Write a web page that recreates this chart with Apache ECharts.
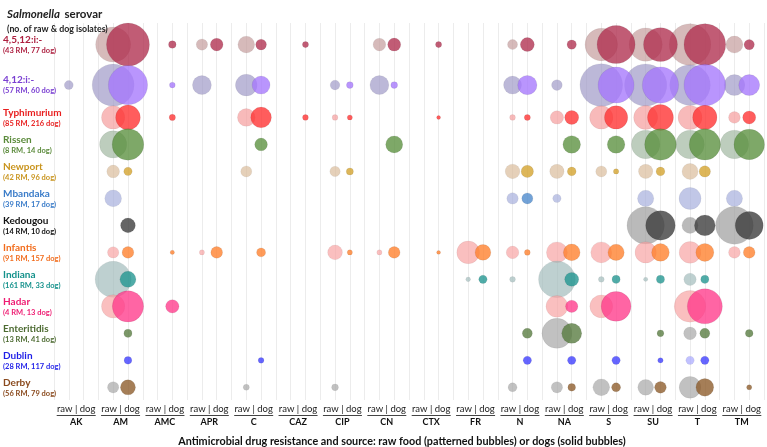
<!DOCTYPE html>
<html>
<head>
<meta charset="utf-8">
<script src="https://cdn.jsdelivr.net/npm/echarts@6.0.0/dist/echarts.min.js"></script>
<style>
  html, body { margin: 0; padding: 0; background: #fff; }
  #main { width: 767px; height: 447px; }
</style>
</head>
<body>
<div id="main"></div>
<script>
// drugs along the x axis, each one has a raw and a dog column
var drugs = ['AK', 'AM', 'AMC', 'APR', 'C', 'CAZ', 'CIP', 'CN', 'CTX', 'FR', 'N', 'NA', 'S', 'SU', 'T', 'TM'];

var serovars = ['4,5,12:i:-', '4,12:i:-', 'Typhimurium', 'Rissen', 'Newport', 'Mbandaka', 'Kedougou',
                'Infantis', 'Indiana', 'Hadar', 'Enteritidis', 'Dublin', 'Derby'];
var rmCounts = [43, 57, 85, 8, 42, 39, 14, 91, 161, 4, 13, 28, 56];
var dogCounts = [77, 60, 216, 14, 96, 17, 10, 157, 33, 13, 41, 117, 79];

// % resistant isolates, order of drugs above (null = none)
var raw_4512 = [null, 56.5, null, 5.9, 12.9, null, null, 7.4, null, null, 4.6, null, 49, 51, 80, 13.3];
var dog_4512 = [null, 85, 2.6, 7.4, 5.3, 1.7, null, 7.8, 1.7, null, 9, 4, 66.5, 53, 80, 4.9];
var raw_412 = [3.7, 81, null, 16.6, 21.7, null, 4.3, 16.6, null, null, 14.9, 5.3, 84, 82.5, 76, 20.3];
var dog_412 = [null, 71, 1.5, null, 14.9, null, 2.1, 2.1, null, null, 17.2, null, 59.7, 60.7, 80, 20.3];
var raw_typh = [null, 25, null, null, 14.4, null, 1.5, null, null, null, 1.5, 8.2, 25, 26.5, 26.5, 6.3];
var dog_typh = [null, 28, 1.8, null, 19.7, 1.5, 1.2, null, 0.7, null, 1.7, 9, 25, 31, 27.2, 7.8];
var raw_rissen = [null, 34, null, null, null, null, null, null, null, null, null, null, null, 37.5, 37.5, 37.5];
var dog_rissen = [null, 46, null, null, 7.4, null, null, 13.3, null, null, null, 14.3, 14.3, 46, 45, 42.9];
var raw_newport = [null, 7.4, null, null, 5.6, null, 4.9, null, null, null, 9.8, 9.4, 5.6, 9.4, 11.8, null];
var dog_newport = [null, 3.2, null, null, null, null, 2.3, null, null, null, 7, 3.5, 1.3, 3.5, 5.9, null];
var raw_mbandaka = [null, 12.9, null, null, null, null, null, null, null, null, 6, 3.2, null, 12.2, 22.3, 12.2];
var dog_mbandaka = [null, null, null, null, null, null, null, null, null, null, 5.6, null, null, null, null, null];
var raw_kedougou = [null, null, null, null, null, null, null, null, null, null, null, null, null, 64.3, 12, 65.5];
var dog_kedougou = [null, 10, null, null, null, null, null, null, null, null, null, null, null, 40, 20, 36];
var raw_infantis = [null, 5.9, null, 1.2, null, null, 10, 1.2, null, 23.7, 7.3, 20.3, 20.3, 20.9, 21.7, 6.3];
var dog_infantis = [null, 6.3, 0.85, 6.3, 3.7, null, 1.2, 6.3, 0.7, 11.4, 1.5, 12.9, 12.2, 14.4, 14.9, 6.3];
var raw_indiana = [null, 59.7, null, null, null, null, null, null, null, 1, 1.5, 62, 1.5, 0.85, 7, null];
var dog_indiana = [null, 11.8, null, null, null, null, null, null, null, 3.2, null, 9, 3, 3, 3, null];
var raw_hadar = [null, 25, null, null, null, null, null, null, null, null, null, 22, 24, null, 46, null];
var dog_hadar = [null, 45, 8.2, null, null, null, null, null, null, null, null, 7, 41, null, 56.5, null];
var raw_enteritidis = [null, null, null, null, null, null, null, null, null, null, null, 41.5, null, null, 7.4, null];
var dog_enteritidis = [null, 3, null, null, null, null, null, null, null, null, 4.6, 18.4, null, 2.1, 4.6, 2.7];
var raw_dublin = [null, null, null, null, null, null, null, null, null, null, null, null, null, null, 3.2, null];
var dog_dublin = [null, 2.7, null, null, 1.5, null, null, null, null, null, 3.2, 3.2, 3.2, 1.3, 3.2, null];
var raw_derby = [null, 5.9, null, null, 1.7, null, 2.1, null, null, null, 3.7, 5.9, 12.9, 11.4, 21.7, null];
var dog_derby = [null, 10.4, null, null, null, null, null, null, null, null, null, 2.7, 3.7, 6.3, 14.4, 1.2];

var rawRows = [raw_4512, raw_412, raw_typh, raw_rissen, raw_newport, raw_mbandaka, raw_kedougou,
               raw_infantis, raw_indiana, raw_hadar, raw_enteritidis, raw_dublin, raw_derby];
var dogRows = [dog_4512, dog_412, dog_typh, dog_rissen, dog_newport, dog_mbandaka, dog_kedougou,
               dog_infantis, dog_indiana, dog_hadar, dog_enteritidis, dog_dublin, dog_derby];

// colours: label, raw bubble, dog bubble
var textColors = ['#ad1f3f', '#7a3fd2', '#e81f1f', '#5a8a3a', '#c9941d', '#3a7cc9', '#111111',
                  '#f26c1c', '#13918b', '#ee1c72', '#4d6b32', '#1f1fe8', '#8a4a1e'];
var rawColors = ['#c39a9a', '#9c97c6', '#f59a9a', '#9db69d', '#d8ba98', '#a3acdc', '#9a9a9a',
                 '#f7a0a0', '#9fbab9', '#f7a0a0', '#a3a3a3', '#a3a3ff', '#a3a3a3'];
var dogColors = ['#b02e4e', '#a577fc', '#ff3030', '#5a8f3e', '#d4a22a', '#4a88cc', '#3a3a3a',
                 '#ff7f2a', '#1f9590', '#ff3a8a', '#567a3e', '#3b3bff', '#8c5a28'];

// vertical layout: top rows have extra room for the big bubbles
var rowPos = [];
for (var i = 0; i < serovars.length; i++) {
  if (i === 0) rowPos.push(0);
  else if (i === 1) rowPos.push(1.5);
  else rowPos.push(2.7 + (i - 2));
}

function bubbleSize(v) {
  return 4.66 * Math.sqrt(v[2]);
}

var series = [];
var richY = {};
for (var r = 0; r < serovars.length; r++) {
  var rawData = [], dogData = [];
  for (var d = 0; d < drugs.length; d++) {
    if (rawRows[r][d] != null) rawData.push([d * 3, rowPos[r], rawRows[r][d]]);
    if (dogRows[r][d] != null) dogData.push([d * 3 + 1, rowPos[r], dogRows[r][d]]);
  }
  series.push({
    name: serovars[r] + ' raw', type: 'scatter', data: rawData, symbolSize: bubbleSize,
    itemStyle: { color: rawColors[r], opacity: 0.68, borderColor: 'rgba(0,0,0,0.12)', borderWidth: 0.6 },
    z: 2
  });
  series.push({
    name: serovars[r] + ' dog', type: 'scatter', data: dogData, symbolSize: bubbleSize,
    itemStyle: { color: dogColors[r], opacity: 0.78, borderColor: 'rgba(0,0,0,0.15)', borderWidth: 0.6 },
    z: 3
  });
  richY['n' + r] = { fontSize: 10, fontWeight: 'bold', color: textColors[r], lineHeight: 12, fontFamily: 'Lato' };
  richY['c' + r] = { fontSize: 7.5, fontWeight: 'bold', color: textColors[r], lineHeight: 10, fontFamily: 'Lato' };
}

var chart = echarts.init(document.getElementById('main'));
chart.setOption({
  animation: false,
  textStyle: { fontFamily: 'Lato' },
  title: [{
    left: 2, top: 0,
    text: '{i|Salmonella} {r|serovar}\n{s|(no. of raw & dog isolates)}',
    textStyle: {
      rich: {
        i: { fontSize: 11.5, fontStyle: 'italic', fontWeight: 'bold', color: '#222', fontFamily: 'Lato', lineHeight: 14 },
        r: { fontSize: 11.5, fontWeight: 'bold', color: '#222', fontFamily: 'Lato', lineHeight: 14 },
        s: { fontSize: 8.8, fontWeight: 'bold', color: '#222', fontFamily: 'Lato', lineHeight: 12 }
      }
    }
  }, {
    left: 397, top: 431, textAlign: 'center',
    text: 'Antimicrobial drug resistance and source: raw food (patterned bubbles) or dogs (solid bubbles)',
    textStyle: { fontSize: 10.8, fontWeight: 'bold', color: '#111', fontFamily: 'Lato' }
  }],
  grid: { left: 54, right: 3, top: 23, bottom: 47 },
  xAxis: [{
    type: 'value', min: -1, max: 47, interval: 1,
    axisLine: { show: false }, axisTick: { show: false }, axisLabel: { show: false },
    splitLine: { show: true, lineStyle: { color: '#ececec', width: 1 } }
  }, {
    type: 'category', data: drugs, position: 'bottom',
    axisLine: { show: false }, axisTick: { show: false },
    axisLabel: {
      margin: 4, interval: 0,
      formatter: function (v) { return '{u|raw | dog}\n{l| }\n{b|' + v + '}'; },
      rich: {
        u: { fontSize: 9.5, color: '#222', lineHeight: 10, fontFamily: 'Lato' },
        l: { width: 39, height: 0.8, lineHeight: 3, backgroundColor: '#444' },
        b: { fontSize: 9, fontWeight: 'bold', color: '#111', lineHeight: 10, fontFamily: 'Lato' }
      }
    }
  }],
  yAxis: {
    type: 'value', inverse: true, min: -0.8, max: 13.17,
    axisLine: { show: false }, axisTick: { show: false }, splitLine: { show: false },
    axisLabel: {
      customValues: rowPos,
      align: 'left', margin: 51,
      formatter: function (v) {
        var k = rowPos.indexOf(v);
        if (k < 0) return '';
        return '{n' + k + '|' + serovars[k] + '}\n{c' + k + '|(' + rmCounts[k] + ' RM, ' + dogCounts[k] + ' dog)}';
      },
      rich: richY
    }
  },
  series: series
});
</script>
</body>
</html>
